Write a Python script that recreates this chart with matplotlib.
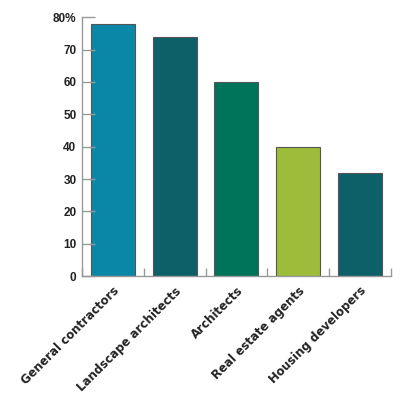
import numpy as np
import matplotlib.pyplot as plt

categories = ['General contractors', 'Landscape architects', 'Architects',
              'Real estate agents', 'Housing developers']
values = [78, 74, 60, 40, 32]
colors = ['#0A87A6', '#0D5F68', '#00745B', '#9DBD3A', '#0D5F68']
yticks = [0, 10, 20, 30, 40, 50, 60, 70, 80]
ytick_labels = ['0', '10', '20', '30', '40', '50', '60', '70', '80%']

fig = plt.figure(figsize=(4.0, 3.99), dpi=100)
ax = fig.add_axes([0.205, 0.308, 0.772, 0.649])

x = np.arange(len(categories))
ax.bar(x, values, width=0.71, color=colors, edgecolor='#555555', linewidth=0.8)

ax.set_xlim(-0.5, len(categories) - 0.5)
ax.set_ylim(0, 80)

ax.set_yticks(yticks)
ax.set_yticklabels(ytick_labels, fontsize=8.5, fontweight='bold',
                   family='Liberation Sans', color='#222222')
ax.tick_params(axis='y', direction='in', length=9, width=1, color='#999999', pad=4)

ax.set_xticks(x)
ax.set_xticklabels(categories, rotation=45, ha='right', rotation_mode='anchor',
                   fontsize=8.5, fontweight='bold', family='DejaVu Sans', color='#222222')
ax.tick_params(axis='x', length=0, pad=6)
ax.set_xticks(np.arange(-0.5, len(categories), 1.0), minor=True)
ax.tick_params(axis='x', which='minor', direction='in', length=6, width=1, color='#999999')

for s in ['top', 'right']:
    ax.spines[s].set_visible(False)
for s in ['left', 'bottom']:
    ax.spines[s].set_color('#999999')
    ax.spines[s].set_linewidth(1)

fig.savefig('out.png', dpi=100)
